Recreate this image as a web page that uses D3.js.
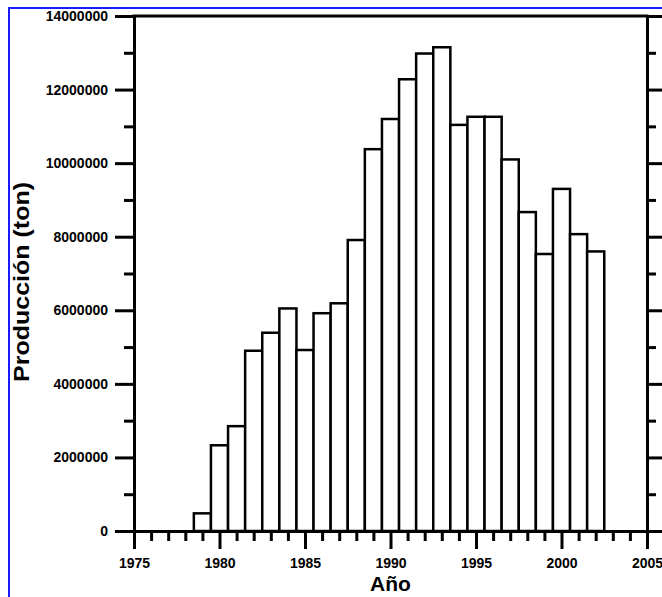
<!DOCTYPE html>
<html>
<head>
<meta charset="utf-8">
<script src="https://cdn.jsdelivr.net/npm/d3@7"></script>
<style>
  body { margin: 0; background: #fff; }
  text { font-family: 'Liberation Sans', Arial, sans-serif; font-weight: bold; fill: #000; }
</style>
</head>
<body>
<svg id="chart" width="662" height="597"></svg>
<script>
// data
const years = [1979, 1980, 1981, 1982, 1983, 1984, 1985, 1986, 1987, 1988, 1989, 1990,
  1991, 1992, 1993, 1994, 1995, 1996, 1997, 1998, 1999, 2000, 2001, 2002]
const production = [480000, 2330000, 2850000, 4900000, 5390000, 6050000, 4920000, 5920000,
  6190000, 7910000, 10380000, 11200000, 12280000, 12980000, 13150000, 11040000, 11260000,
  11260000, 10100000, 8670000, 7530000, 9300000, 8070000, 7600000]
const xMajorTicks = [1975, 1980, 1985, 1990, 1995, 2000, 2005]
const xMinorTicks = d3.range(1976, 2005).filter(d => d % 5 !== 0)
const yMajorTicks = [0, 2000000, 4000000, 6000000, 8000000, 10000000, 12000000, 14000000]
const yMinorTicks = [1000000, 3000000, 5000000, 7000000, 9000000, 11000000, 13000000]

const svg = d3.select('#chart')
const plotLeft = 134
const plotRight = 647
const plotTop = 16
const plotBottom = 531

const x = d3.scaleLinear().domain([1975, 2005]).range([plotLeft, plotRight])
const y = d3.scaleLinear().domain([0, 14000000]).range([plotBottom, plotTop])

// blue frame round the figure
svg.append('rect')
  .attr('x', 9)
  .attr('y', 8)
  .attr('width', 720)
  .attr('height', 720)
  .attr('fill', 'none')
  .attr('stroke', '#1a1aff')
  .attr('stroke-width', 2)

// bars
svg.append('g')
  .selectAll('rect')
  .data(years)
  .join('rect')
  .attr('x', d => x(d - 0.5))
  .attr('width', d => x(d + 0.5) - x(d - 0.5))
  .attr('y', (d, i) => y(production[i]))
  .attr('height', (d, i) => y(0) - y(production[i]))
  .attr('fill', '#fff')
  .attr('stroke', '#000')
  .attr('stroke-width', 2.5)

/**
 * Styles an axis group: thick black lines and bold labels
 *
 * @param {*} g the axis group
 */
function styleAxis (g) {
  g.selectAll('path, line').attr('stroke', '#000').attr('stroke-width', 3)
  g.selectAll('text').attr('font-size', '14px').attr('fill', '#000')
  g.attr('font-family', null)
}

// left axis, ticks out
svg.append('g')
  .attr('transform', `translate(${plotLeft},0)`)
  .call(d3.axisLeft(y).tickValues(yMajorTicks).tickFormat(d3.format('d'))
    .tickSize(19).tickSizeOuter(0).tickPadding(7))
  .call(styleAxis)
svg.append('g')
  .attr('transform', `translate(${plotLeft},0)`)
  .call(d3.axisLeft(y).tickValues(yMinorTicks).tickFormat('').tickSize(10).tickSizeOuter(0))
  .call(styleAxis)
  .call(g => g.select('.domain').remove())

// right axis, ticks in
svg.append('g')
  .attr('transform', `translate(${plotRight},0)`)
  .call(d3.axisLeft(y).tickValues(yMajorTicks).tickFormat('').tickSize(-18).tickSizeOuter(0))
  .call(styleAxis)
svg.append('g')
  .attr('transform', `translate(${plotRight},0)`)
  .call(d3.axisLeft(y).tickValues(yMinorTicks).tickFormat('').tickSize(-9).tickSizeOuter(0))
  .call(styleAxis)
  .call(g => g.select('.domain').remove())

// bottom axis, ticks out
svg.append('g')
  .attr('transform', `translate(0,${plotBottom})`)
  .call(d3.axisBottom(x).tickValues(xMajorTicks).tickFormat(d3.format('d'))
    .tickSize(18).tickSizeOuter(0).tickPadding(9))
  .call(styleAxis)
svg.append('g')
  .attr('transform', `translate(0,${plotBottom})`)
  .call(d3.axisBottom(x).tickValues(xMinorTicks).tickFormat('').tickSize(10).tickSizeOuter(0))
  .call(styleAxis)
  .call(g => g.select('.domain').remove())

// top border, no ticks
svg.append('line')
  .attr('x1', plotLeft - 1.5)
  .attr('x2', plotRight + 1.5)
  .attr('y1', plotTop)
  .attr('y2', plotTop)
  .attr('stroke', '#000')
  .attr('stroke-width', 3)

// axis titles
svg.append('text')
  .attr('x', (plotLeft + plotRight) / 2)
  .attr('y', 591)
  .attr('text-anchor', 'middle')
  .attr('font-size', '21px')
  .text('Año')

svg.append('text')
  .attr('transform', 'translate(29,282) rotate(-90)')
  .attr('text-anchor', 'middle')
  .attr('font-size', '22px')
  .attr('textLength', 200)
  .attr('lengthAdjust', 'spacingAndGlyphs')
  .text('Producción (ton)')
</script>
</body>
</html>
